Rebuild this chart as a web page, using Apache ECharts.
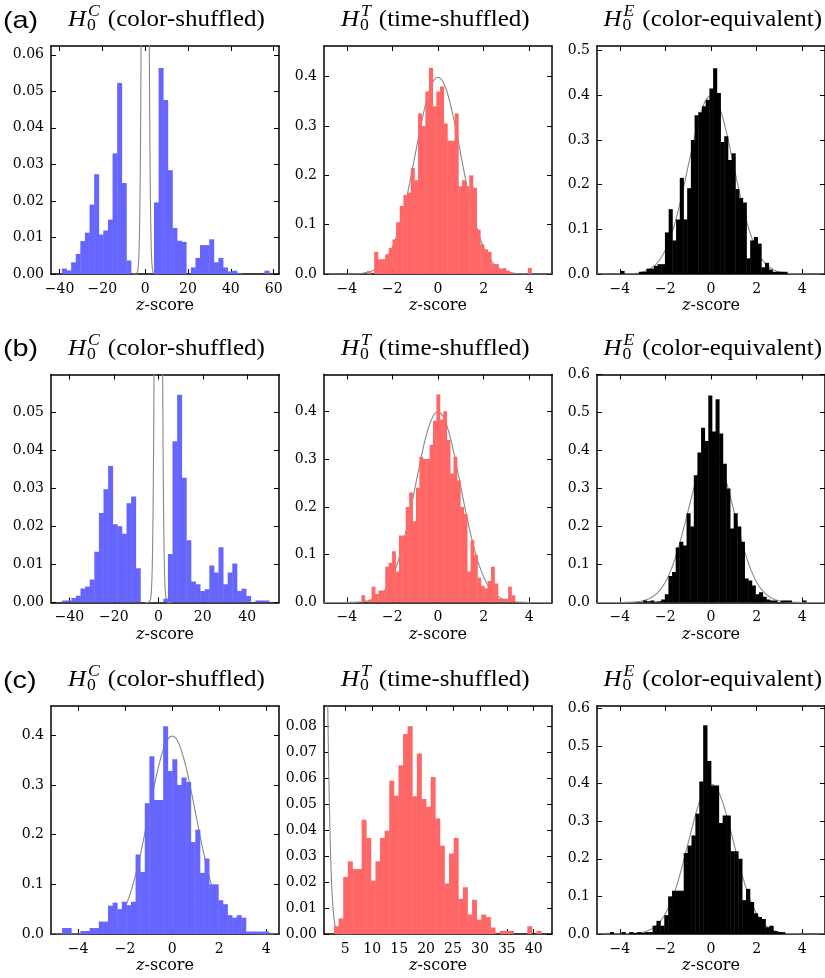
<!DOCTYPE html>
<html>
<head>
<meta charset="utf-8">
<script src="https://cdn.jsdelivr.net/npm/echarts@6/dist/echarts.min.js"></script>
<style>
  html, body { margin: 0; padding: 0; background: #fff; }
  #chart { width: 825px; height: 978px; }
</style>
</head>
<body>
<div id="chart"></div>
<script>
// row tags and null-model titles
const PANEL_TAGS = ['(a)', '(b)', '(c)']
const NULL_SUPS = ['C', 'T', 'E']
const NULL_NAMES = ['(color-shuffled)', '(time-shuffled)', '(color-equivalent)']

// shared tick lists
const xTicksZ = [-4, -2, 0, 2, 4]
const yTicks04 = [0, 0.1, 0.2, 0.3, 0.4]
const yTicks05 = [0, 0.1, 0.2, 0.3, 0.4, 0.5]
const yTicks06 = [0, 0.1, 0.2, 0.3, 0.4, 0.5, 0.6]

// histogram densities, 45 bins each; bins = [first edge, bin width]
// (a) color-shuffled
const histAC = [0.0015, 0.001, 0.0032, 0.0055, 0.009, 0.0113, 0.019, 0.0273, 0.0108, 0.0119,
  0.0149, 0.033, 0.0523, 0.0249, 0.0037, 0, 0, 0, 0, 0,
  0.0196, 0.0564, 0.0476, 0.0284, 0.0126, 0.0091, 0.0088, 0, 0.0018, 0.0044,
  0.0079, 0.0079, 0.0095, 0.0032, 0.0044, 0.0018, 0.0007, 0.0009, 0.0003, 0,
  0, 0, 0, 0, 0.0009]
const binsAC = [-38.9, 2.15]
const xLimAC = [-44, 62.5]
const xTicksAC = [-40, -20, 0, 20, 40, 60]
const yMaxAC = 0.0624
const yTicksAC = [0, 0.01, 0.02, 0.03, 0.04, 0.05, 0.06]

// (a) time-shuffled
const histAT = [0.006, 0, 0.045, 0.03, 0.03, 0.04, 0.053, 0.07, 0.105, 0.138,
  0.16, 0.165, 0.215, 0.19, 0.325, 0.3, 0.37, 0.418, 0.34, 0.37,
  0.38, 0.305, 0.27, 0.27, 0.325, 0.178, 0.19, 0.178, 0.2, 0.175,
  0.09, 0.06, 0.05, 0.045, 0.02, 0.02, 0.01, 0.012, 0.007, 0.003,
  0, 0, 0, 0, 0.012]
const binsAT = [-3.12, 0.1604]
const xLimAT = [-5, 5]
const yMaxAT = 0.462

// (a) color-equivalent
const histAE = [0.007, 0, 0, 0, 0, 0.005, 0.005, 0.012, 0.012, 0.018,
  0.022, 0.022, 0.093, 0.145, 0.075, 0.122, 0.215, 0.122, 0.192, 0.3,
  0.355, 0.362, 0.375, 0.39, 0.415, 0.46, 0.405, 0.295, 0.308, 0.255,
  0.27, 0.19, 0.17, 0.16, 0.035, 0.075, 0.083, 0.068, 0.015, 0.025,
  0.01, 0.005, 0.005, 0.005, 0.005]
const binsAE = [-3.97, 0.1625]
const xLimAE = [-5, 5]
const yMaxAE = 0.51

// (b) color-shuffled
const histBC = [0.0005, 0.0005, 0.0012, 0.0018, 0.0037, 0.0042, 0.006, 0.0133, 0.0235, 0.0297,
  0.0358, 0.0205, 0.02, 0.018, 0.026, 0.0278, 0.009, 0, 0, 0,
  0, 0, 0.001, 0.0127, 0.0423, 0.0545, 0.0327, 0.0163, 0.0055, 0.0048,
  0.003, 0.0035, 0.0097, 0.0079, 0.0145, 0.0048, 0.0079, 0.0102, 0.003, 0.0036,
  0.0017, 0, 0.0005, 0.0005, 0.0005]
const binsBC = [-43.3, 2.07]
const xLimBC = [-48.3, 54.3]
const xTicksBC = [-40, -20, 0, 20, 40]
const yMaxBC = 0.0598
const yTicksBC = [0, 0.01, 0.02, 0.03, 0.04, 0.05]

// (b) time-shuffled
const histBT = [0.015, 0, 0.006, 0.033, 0.018, 0.025, 0.025, 0.075, 0.083, 0.107,
  0.065, 0.14, 0.14, 0.2, 0.23, 0.17, 0.24, 0.305, 0.3, 0.3,
  0.33, 0.38, 0.435, 0.383, 0.4, 0.34, 0.27, 0.305, 0.255, 0.2,
  0.185, 0.065, 0.13, 0.1, 0.052, 0.035, 0.03, 0.045, 0.075, 0.04,
  0.008, 0.008, 0.008, 0.033, 0.015]
const binsBT = [-3.36, 0.1496]
const xLimBT = [-5, 5]
const yMaxBT = 0.477

// (b) color-equivalent
const histBE = [0.005, 0.003, 0.005, 0.002, 0.003, 0.008, 0.022, 0.07, 0.08, 0.145,
  0.16, 0.15, 0.235, 0.2, 0.335, 0.395, 0.46, 0.425, 0.545, 0.45,
  0.535, 0.445, 0.365, 0.3, 0.195, 0.235, 0.2, 0.16, 0.063, 0.058,
  0.045, 0.022, 0.027, 0.015, 0.008, 0.005, 0.005, 0, 0.005, 0.005,
  0.005, 0, 0, 0, 0.005]
const binsBE = [-2.98, 0.159]
const xLimBE = [-5, 5]
const yMaxBE = 0.6

// (c) color-shuffled
const histCC = [0.012, 0.012, 0, 0, 0.006, 0.006, 0.012, 0.012, 0.025, 0.025,
  0.057, 0.063, 0.05, 0.065, 0.058, 0.065, 0.16, 0.125, 0.263, 0.358,
  0.27, 0.27, 0.418, 0.328, 0.352, 0.3, 0.315, 0.306, 0.185, 0.21,
  0.123, 0.152, 0.1, 0.1, 0.068, 0.06, 0.038, 0.033, 0.038, 0.033,
  0.005, 0.005, 0.005, 0.005, 0.005]
const binsCC = [-4.68, 0.1953]
const xLimCC = [-5.15, 4.54]
const yMaxCC = 0.459

// (c) time-shuffled
const histCT = [0.003, 0.006, 0.022, 0.028, 0.025, 0.025, 0.044, 0.037, 0.0205, 0.028,
  0.037, 0.0398, 0.059, 0.0532, 0.065, 0.077, 0.08, 0.053, 0.0695, 0.052,
  0.049, 0.0605, 0.0445, 0.034, 0.0195, 0.031, 0.037, 0.0135, 0.018, 0.0075,
  0.0132, 0.0055, 0.0075, 0.0065, 0.0025, 0, 0.0012, 0.0012, 0.0012, 0,
  0, 0, 0.003, 0, 0.0012]
const binsCT = [2.9, 0.855]
const xLimCT = [1.04, 43.4]
const xTicksCT = [5, 10, 15, 20, 25, 30, 35, 40]
const yMaxCT = 0.0878
const yTicksCT = [0, 0.01, 0.02, 0.03, 0.04, 0.05, 0.06, 0.07, 0.08]

// (c) color-equivalent
const histCE = [0.005, 0, 0, 0.005, 0, 0.005, 0.003, 0.005, 0.003, 0.005,
  0.005, 0.022, 0.035, 0.022, 0.05, 0.1, 0.115, 0.115, 0.115, 0.215,
  0.235, 0.262, 0.32, 0.405, 0.555, 0.46, 0.395, 0.395, 0.295, 0.315,
  0.315, 0.22, 0.22, 0.2, 0.09, 0.12, 0.085, 0.055, 0.045, 0.04,
  0.018, 0.022, 0.008, 0.005, 0.005]
const binsCE = [-4.44, 0.1707]
const xLimCE = [-5, 5]
const yMaxCE = 0.606

const BLUE = '#6666ff'
const RED = '#ff6666'
const BLACK = '#000000'
const SERIF = 'DejaVu Serif'
const TITLE_SERIF = 'Liberation Serif'
const SANS = 'Liberation Sans'
const SX = 1.04

const COL_LEFT = [51, 324, 597]
const ROW_TOP = [46, 374.5, 706]
const BOX = 228
// title anchors: first two by left edge, last one by right edge
const TITLE_LEFT = [68, 341, null]
const TITLE_RIGHT = 822

const panels = [
  { hist: histAC, bins: binsAC, xLim: xLimAC, xTicks: xTicksAC, yMax: yMaxAC, yTicks: yTicksAC, dec: 2, color: BLUE },
  { hist: histAT, bins: binsAT, xLim: xLimAT, xTicks: xTicksZ, yMax: yMaxAT, yTicks: yTicks04, dec: 1, color: RED },
  { hist: histAE, bins: binsAE, xLim: xLimAE, xTicks: xTicksZ, yMax: yMaxAE, yTicks: yTicks05, dec: 1, color: BLACK },
  { hist: histBC, bins: binsBC, xLim: xLimBC, xTicks: xTicksBC, yMax: yMaxBC, yTicks: yTicksBC, dec: 2, color: BLUE },
  { hist: histBT, bins: binsBT, xLim: xLimBT, xTicks: xTicksZ, yMax: yMaxBT, yTicks: yTicks04, dec: 1, color: RED },
  { hist: histBE, bins: binsBE, xLim: xLimBE, xTicks: xTicksZ, yMax: yMaxBE, yTicks: yTicks06, dec: 1, color: BLACK },
  { hist: histCC, bins: binsCC, xLim: xLimCC, xTicks: xTicksZ, yMax: yMaxCC, yTicks: yTicks04, dec: 1, color: BLUE },
  { hist: histCT, bins: binsCT, xLim: xLimCT, xTicks: xTicksCT, yMax: yMaxCT, yTicks: yTicksCT, dec: 2, color: RED },
  { hist: histCE, bins: binsCE, xLim: xLimCE, xTicks: xTicksZ, yMax: yMaxCE, yTicks: yTicks06, dec: 1, color: BLACK }
]

function normalPdf (x) {
  return Math.exp(-x * x / 2) / Math.sqrt(2 * Math.PI)
}

const ctx = document.createElement('canvas').getContext('2d')
function textWidth (s, style, size, family) {
  ctx.font = style + ' ' + size + 'px "' + family + '"'
  return ctx.measureText(s).width
}

function renderBar (params, api) {
  const p0 = api.coord([api.value(0), 0])
  const p1 = api.coord([api.value(1), api.value(2)])
  return {
    type: 'rect',
    shape: { x: p0[0], y: p1[1], width: p1[0] - p0[0] + 0.4, height: p0[1] - p1[1] },
    style: { fill: api.visual('color') }
  }
}

const minus = (v) => String(v).replace('-', '\u2212')

function label (text, x, y, size, family, italic) {
  return {
    type: 'text', x, y, scaleX: SX,
    style: { text, fontSize: size, fontFamily: family, fontStyle: italic ? 'italic' : 'normal', fill: '#000', verticalAlign: 'middle' }
  }
}

const grid = []
const xAxis = []
const yAxis = []
const series = []
const graphic = []

panels.forEach((p, i) => {
  const row = Math.floor(i / 3)
  const col = i % 3
  grid.push({ left: COL_LEFT[col], top: ROW_TOP[row], width: BOX, height: BOX })

  const spine = { show: true, onZero: false, lineStyle: { color: '#000', width: 1.5 } }
  const xTick = { show: true, inside: true, length: 5, customValues: p.xTicks, lineStyle: { color: '#000', width: 1 } }
  const yTick = { show: true, inside: true, length: 5, customValues: p.yTicks, lineStyle: { color: '#000', width: 1 } }
  const xBase = { type: 'value', gridIndex: i, min: p.xLim[0], max: p.xLim[1], axisLine: spine, axisTick: xTick, splitLine: { show: false } }
  const yBase = { type: 'value', gridIndex: i, min: 0, max: p.yMax, axisLine: spine, axisTick: yTick, splitLine: { show: false } }

  xAxis.push(Object.assign({}, xBase, {
    position: 'bottom',
    axisLabel: { customValues: p.xTicks, formatter: minus, margin: 8, fontFamily: SERIF, fontSize: 14, color: '#000' },
    name: '{i|z}-score',
    nameLocation: 'middle',
    nameGap: 24,
    nameTextStyle: {
      fontFamily: SERIF, fontSize: 16, color: '#000', verticalAlign: 'top',
      rich: { i: { fontFamily: SERIF, fontSize: 16, fontStyle: 'italic', color: '#000' } }
    }
  }))
  xAxis.push(Object.assign({}, xBase, { position: 'top', axisLabel: { show: false } }))
  yAxis.push(Object.assign({}, yBase, {
    position: 'left',
    axisLabel: { customValues: p.yTicks, formatter: (v) => v.toFixed(p.dec), margin: 7, fontFamily: SERIF, fontSize: 14, color: '#000' }
  }))
  yAxis.push(Object.assign({}, yBase, { position: 'right', axisLabel: { show: false } }))

  const curve = []
  const lo = Math.max(p.xLim[0], -6)
  const hi = Math.min(p.xLim[1], 6)
  for (let x = lo; x <= hi; x += 0.02) curve.push([x, normalPdf(x)])
  series.push({
    type: 'line', xAxisIndex: 2 * i, yAxisIndex: 2 * i, data: curve,
    showSymbol: false, clip: true, silent: true, z: 1,
    lineStyle: { color: '#888888', width: 1.1 }
  })

  const bars = []
  p.hist.forEach((v, k) => {
    if (v > 0) bars.push([p.bins[0] + k * p.bins[1], p.bins[0] + (k + 1) * p.bins[1], v])
  })
  series.push({
    type: 'custom', xAxisIndex: 2 * i, yAxisIndex: 2 * i, data: bars,
    renderItem: renderBar, itemStyle: { color: p.color }, clip: true, silent: true, z: 2
  })
})

// titles above each column, H_0^X (name)
for (let row = 0; row < 3; row++) {
  const yMid = ROW_TOP[row] - 26
  graphic.push(Object.assign(label(PANEL_TAGS[row], 3, yMid + 1, 24, SANS, false), { scaleX: 1.2 }))
  for (let col = 0; col < 3; col++) {
    const wH = textWidth('H', 'italic', 24, TITLE_SERIF) * SX
    const wS = Math.max(textWidth(NULL_SUPS[col], 'italic', 17, TITLE_SERIF), textWidth('0', 'normal', 17, TITLE_SERIF)) * SX
    const wM = textWidth(NULL_NAMES[col], 'normal', 24, TITLE_SERIF) * SX
    const total = wH + 2 + wS + 8 + wM
    const x0 = TITLE_LEFT[col] !== null ? TITLE_LEFT[col] : TITLE_RIGHT - total
    graphic.push(
      label('H', x0, yMid, 24, TITLE_SERIF, true),
      label(NULL_SUPS[col], x0 + wH + 2, yMid - 8, 17, TITLE_SERIF, true),
      label('0', x0 + wH + 1, yMid + 6, 17, TITLE_SERIF, false),
      label(NULL_NAMES[col], x0 + wH + 2 + wS + 8, yMid, 24, TITLE_SERIF, false)
    )
  }
}

const chart = echarts.init(document.getElementById('chart'))
chart.setOption({
  animation: false,
  backgroundColor: '#fff',
  grid,
  xAxis,
  yAxis,
  series,
  graphic
})
</script>
</body>
</html>
